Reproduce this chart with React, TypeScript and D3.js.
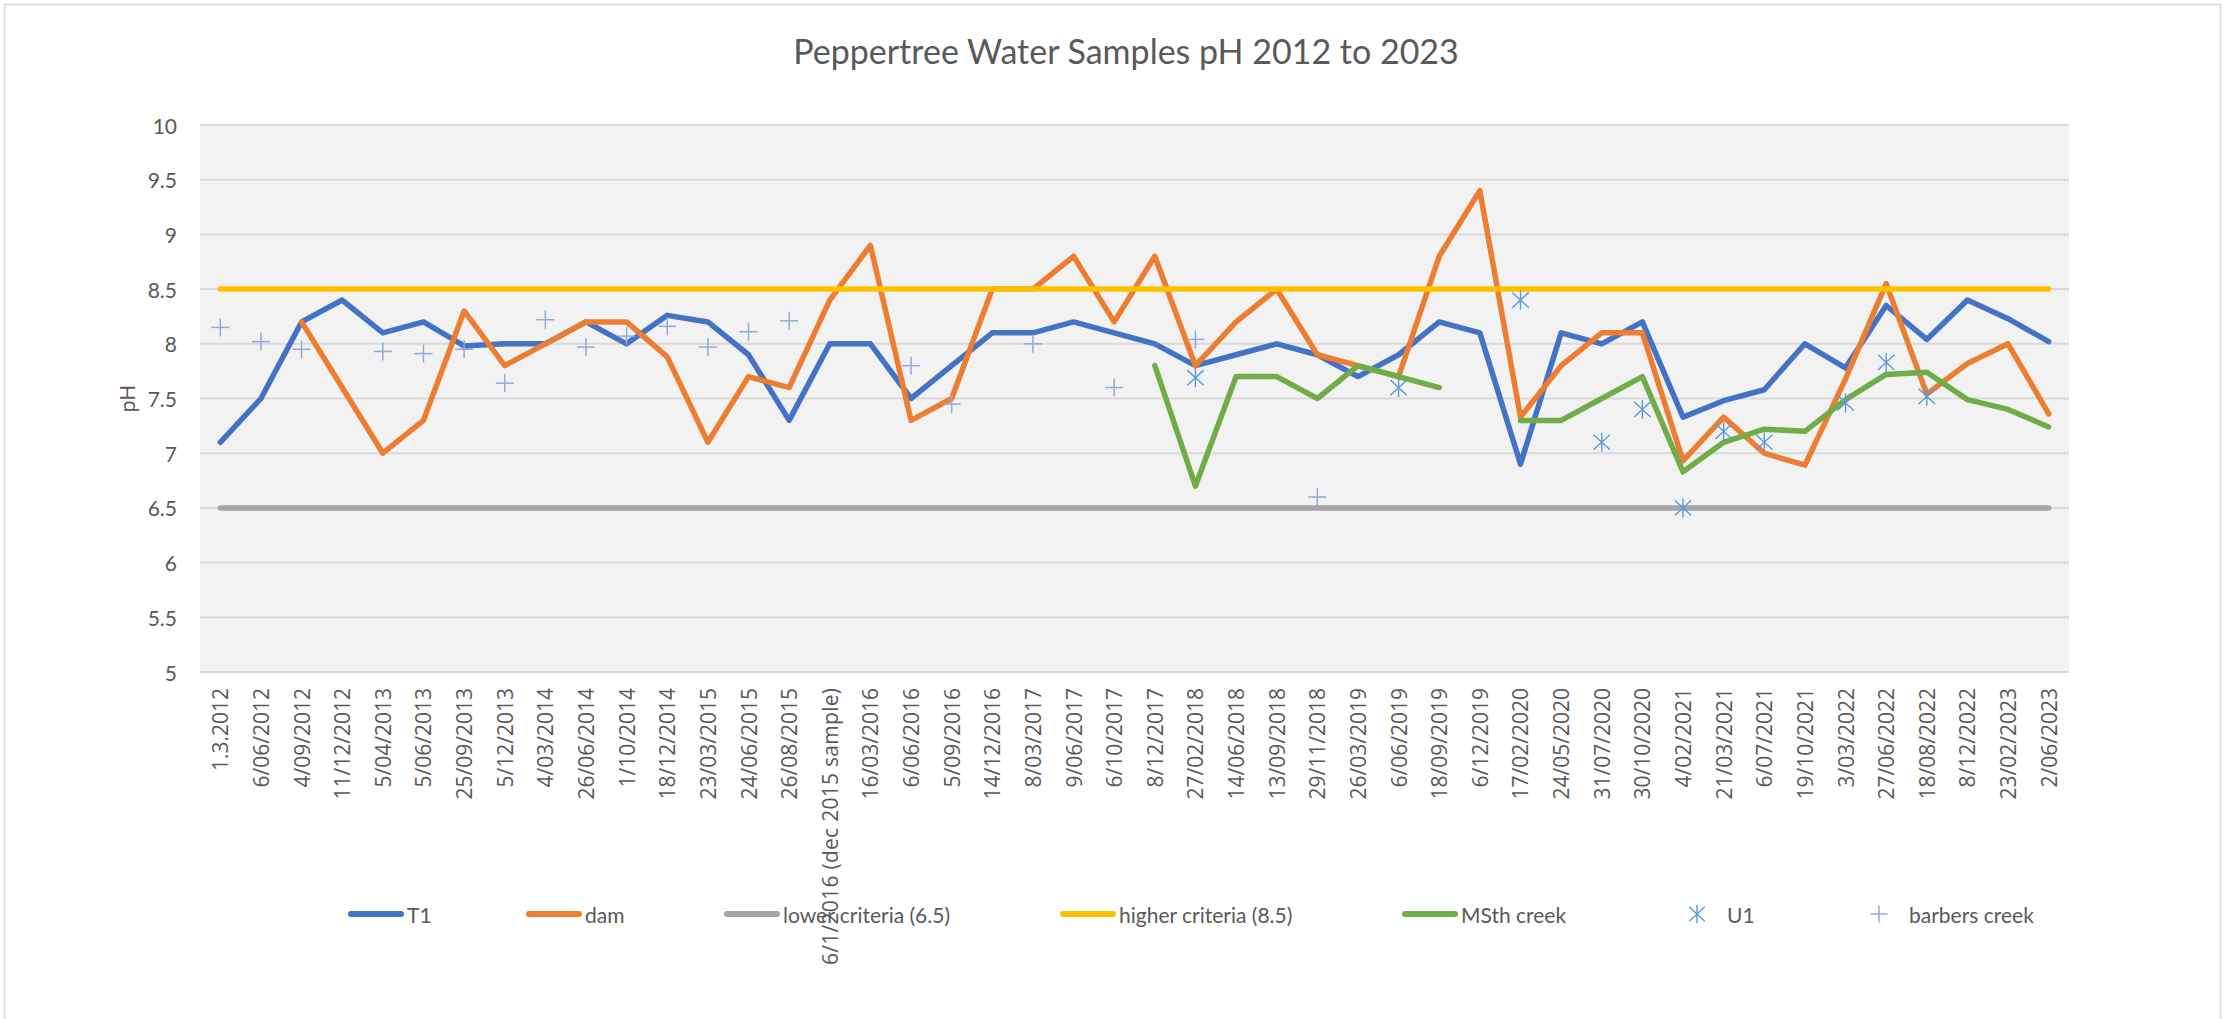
import React from "react";
import * as d3 from "d3";

const categories: string[] = [
  "1.3.2012", "6/06/2012", "4/09/2012", "11/12/2012", "5/04/2013", "5/06/2013",
  "25/09/2013", "5/12/2013", "4/03/2014", "26/06/2014", "1/10/2014", "18/12/2014",
  "23/03/2015", "24/06/2015", "26/08/2015", "6/1/2016 (dec 2015 sample)", "16/03/2016",
  "6/06/2016", "5/09/2016", "14/12/2016", "8/03/2017", "9/06/2017", "6/10/2017",
  "8/12/2017", "27/02/2018", "14/06/2018", "13/09/2018", "29/11/2018", "26/03/2019",
  "6/06/2019", "18/09/2019", "6/12/2019", "17/02/2020", "24/05/2020", "31/07/2020",
  "30/10/2020", "4/02/2021", "21/03/2021", "6/07/2021", "19/10/2021", "3/03/2022",
  "27/06/2022", "18/08/2022", "8/12/2022", "23/02/2023", "2/06/2023",
];

const T1: (number | null)[] = [
  7.1, 7.5, 8.2, 8.4, 8.1, 8.2, 7.98, 8.0, 8.0, 8.2, 8.0, 8.26, 8.2, 7.9, 7.3,
  8.0, 8.0, 7.5, 7.8, 8.1, 8.1, 8.2, 8.1, 8.0, 7.8, 7.9, 8.0, 7.9, 7.7, 7.9,
  8.2, 8.1, 6.9, 8.1, 8.0, 8.2, 7.33, 7.48, 7.58, 8.0, 7.78, 8.35, 8.04, 8.4, 8.23, 8.02,
];

const dam: (number | null)[] = [
  null, null, 8.2, 7.6, 7.0, 7.3, 8.3, 7.8, 8.0, 8.2, 8.2, 7.88, 7.1, 7.7, 7.6,
  8.4, 8.9, 7.3, 7.5, 8.5, 8.5, 8.8, 8.2, 8.8, 7.8, 8.2, 8.5, 7.9, 7.8, 7.7,
  8.8, 9.4, 7.33, 7.8, 8.1, 8.1, 6.93, 7.33, 7.0, 6.89, 7.68, 8.55, 7.54, 7.82, 8.0, 7.36,
];

const lowerCriteria: (number | null)[] = categories.map(() => 6.5);
const higherCriteria: (number | null)[] = categories.map(() => 8.5);

const msthCreek: (number | null)[] = [
  null, null, null, null, null, null, null, null, null, null, null, null, null, null, null,
  null, null, null, null, null, null, null, null, 7.8, 6.7, 7.7, 7.7, 7.5, 7.8, 7.7,
  7.6, null, 7.3, 7.3, 7.5, 7.7, 6.83, 7.1, 7.22, 7.2, 7.49, 7.72, 7.74, 7.49, 7.4, 7.24,
];

const U1: (number | null)[] = [
  null, null, null, null, null, null, null, null, null, null, null, null, null, null, null,
  null, null, null, null, null, null, null, null, null, 7.69, null, null, null, null, 7.6,
  null, null, 8.4, null, 7.1, 7.4, 6.5, 7.2, 7.1, null, 7.46, 7.83, 7.52, null, null, null,
];

const barbersCreek: (number | null)[] = [
  8.15, 8.02, 7.95, null, 7.93, 7.91, 7.95, 7.64, 8.22, 7.97, 8.07, 8.16, 7.97, 8.11, 8.21,
  null, null, 7.8, 7.45, null, 8.0, null, 7.6, null, 8.04, null, null, 6.6, null, null,
  null, null, null, null, null, null, null, null, null, null, null, null, null, null, null, null,
];

const yTicks: number[] = [5, 5.5, 6, 6.5, 7, 7.5, 8, 8.5, 9, 9.5, 10];

const title = "Peppertree Water Samples pH 2012 to 2023";
const yTitle = "pH";

const lineSeries = [
  { name: "T1", data: T1, color: "#4472C4" },
  { name: "dam", data: dam, color: "#ED7D31" },
  { name: "lower criteria (6.5)", data: lowerCriteria, color: "#A5A5A5" },
  { name: "higher criteria (8.5)", data: higherCriteria, color: "#FFC000" },
  { name: "MSth creek", data: msthCreek, color: "#70AD47" },
];

const W = 2238;
const H = 1019;
const plot = { left: 200, right: 2069, top: 125, bottom: 672 };
const textColor = "#595959";
const uiFont = "Lato, 'Open Sans', sans-serif";
const axisFont = "'Open Sans', Lato, sans-serif";

function Asterisk({ x, y, r, color, w }: { x: number; y: number; r: number; color: string; w: number }) {
  const dx = r * 0.866;
  const dy = r * 0.5;
  return (
    <g stroke={color} strokeWidth={w} fill="none">
      <line x1={x} y1={y - r} x2={x} y2={y + r} />
      <line x1={x - dx} y1={y - dy * 1.6} x2={x + dx} y2={y + dy * 1.6} />
      <line x1={x - dx} y1={y + dy * 1.6} x2={x + dx} y2={y - dy * 1.6} />
    </g>
  );
}

function Plus({ x, y, r, color, w }: { x: number; y: number; r: number; color: string; w: number }) {
  return (
    <g stroke={color} strokeWidth={w} fill="none">
      <line x1={x - r} y1={y} x2={x + r} y2={y} />
      <line x1={x} y1={y - r} x2={x} y2={y + r} />
    </g>
  );
}

export default function App() {
  const x = d3.scaleBand<string>().domain(categories).range([plot.left, plot.right]).paddingInner(0).paddingOuter(0);
  const y = d3.scaleLinear().domain([5, 10]).range([plot.bottom, plot.top]);
  const cx = (i: number) => (x(categories[i]) as number) + x.bandwidth() / 2;

  const lineGen = d3
    .line<number | null>()
    .defined((d) => d != null)
    .x((_, i) => cx(i))
    .y((d) => y(d as number));

  const legendY = 914;
  const legendLines = [
    { name: "T1", color: "#4472C4", x0: 348 },
    { name: "dam", color: "#ED7D31", x0: 526 },
    { name: "lower criteria (6.5)", color: "#A5A5A5", x0: 724 },
    { name: "higher criteria (8.5)", color: "#FFC000", x0: 1060 },
    { name: "MSth creek", color: "#70AD47", x0: 1402 },
  ];

  return (
    <svg
      width={W}
      height={H}
      style={{ position: "absolute", left: 0, top: 0, display: "block", background: "#fff" }}
    >
      <rect x={0} y={0} width={W} height={H} fill="#fff" />
      <path d={`M4.5,${H} V4.5 H2220.5 V${H}`} fill="none" stroke="#d9d9d9" strokeWidth={1.5} />

      <text
        x={1126}
        y={64}
        textAnchor="middle"
        fontFamily={uiFont}
        fontSize={34}
        fill={textColor}
      >
        {title}
      </text>

      <rect
        x={plot.left}
        y={plot.top}
        width={plot.right - plot.left}
        height={plot.bottom - plot.top}
        fill="#f2f2f2"
      />
      {yTicks.map((t) => (
        <line
          key={`g${t}`}
          x1={plot.left}
          x2={plot.right}
          y1={y(t)}
          y2={y(t)}
          stroke="#d9d9d9"
          strokeWidth={2}
        />
      ))}
      {yTicks.map((t) => (
        <text
          key={`t${t}`}
          x={177}
          y={y(t)}
          textAnchor="end"
          dominantBaseline="central"
          fontFamily={uiFont}
          fontSize={21}
          fill={textColor}
        >
          {t}
        </text>
      ))}
      <text
        transform={`translate(126,${(plot.top + plot.bottom) / 2}) rotate(-90)`}
        textAnchor="middle"
        dominantBaseline="central"
        fontFamily={uiFont}
        fontSize={21}
        fill={textColor}
      >
        {yTitle}
      </text>

      {categories.map((c, i) => (
        <text
          key={c}
          transform={`translate(${cx(i)},688) rotate(-90)`}
          textAnchor="end"
          dominantBaseline="central"
          fontFamily={axisFont}
          fontSize={21}
          fill={textColor}
          {...(c.length > 12 ? { textLength: 277, lengthAdjust: "spacing" } : {})}
        >
          {c}
        </text>
      ))}

      {lineSeries.map((s) => (
        <path
          key={s.name}
          d={lineGen(s.data) || ""}
          fill="none"
          stroke={s.color}
          strokeWidth={5.5}
          strokeLinecap="round"
          strokeLinejoin="round"
        />
      ))}

      {U1.map((v, i) =>
        v == null ? null : <Asterisk key={`u${i}`} x={cx(i)} y={y(v)} r={9.5} color="#5B9BD5" w={1.4} />
      )}
      {barbersCreek.map((v, i) =>
        v == null ? null : <Plus key={`b${i}`} x={cx(i)} y={y(v)} r={9} color="#8FAADC" w={1.5} />
      )}

      {legendLines.map((l) => (
        <g key={l.name}>
          <line
            x1={l.x0 + 3}
            x2={l.x0 + 53}
            y1={legendY}
            y2={legendY}
            stroke={l.color}
            strokeWidth={6}
            strokeLinecap="round"
          />
          <text
            x={l.x0 + 59}
            y={legendY}
            dominantBaseline="central"
            fontFamily={uiFont}
            fontSize={21}
            fill={textColor}
          >
            {l.name}
          </text>
        </g>
      ))}
      <Asterisk x={1697} y={legendY} r={9} color="#5B9BD5" w={1.4} />
      <text x={1727} y={legendY} dominantBaseline="central" fontFamily={uiFont} fontSize={21} fill={textColor}>
        U1
      </text>
      <Plus x={1879} y={legendY} r={8.5} color="#8FAADC" w={1.5} />
      <text x={1909} y={legendY} dominantBaseline="central" fontFamily={uiFont} fontSize={21} fill={textColor}>
        barbers creek
      </text>
    </svg>
  );
}
